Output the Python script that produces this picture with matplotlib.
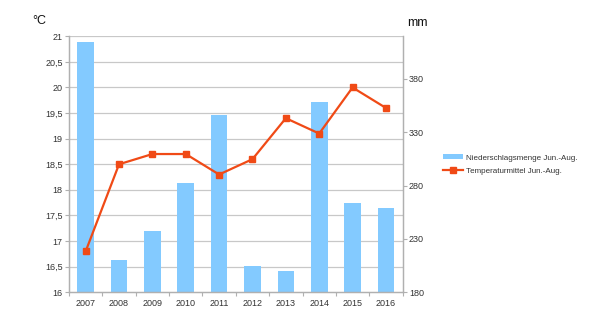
import matplotlib
matplotlib.use("Agg")
import matplotlib.pyplot as plt
from matplotlib.lines import Line2D
from matplotlib.patches import Patch
from matplotlib.ticker import FuncFormatter, FixedLocator, MultipleLocator
import matplotlib.transforms as mtransforms
import numpy as np

plt.rcParams['font.family'] = ['Liberation Sans', 'DejaVu Sans']

years = ['2007', '2008', '2009', '2010', '2011', '2012', '2013', '2014', '2015', '2016']
niederschlag_mm = [415, 210, 237, 282, 346, 205, 200, 358, 264, 259]
temperatur_c = [16.8, 18.5, 18.7, 18.7, 18.3, 18.6, 19.4, 19.1, 20.0, 19.6]

bar_color = '#83caff'
line_color = '#f04a16'
grid_color = '#c8c8c8'
text_color = '#333333'

fig = plt.figure(figsize=(6, 3.24), dpi=100)
ax_mm = fig.add_axes([0.115, 0.098, 0.556, 0.790])
ax_t = ax_mm.twinx()

x = np.arange(len(years))

# precipitation bars (right axis)
ax_mm.bar(x, niederschlag_mm, width=0.5, color=bar_color, zorder=2)
ax_mm.set_ylim(180, 420)
ax_mm.yaxis.tick_right()
ax_mm.yaxis.set_major_locator(FixedLocator([180, 230, 280, 330, 380]))

# temperature line (left axis)
ax_t.plot(x, temperatur_c, color=line_color, lw=1.6, marker='s', ms=5, zorder=3)
ax_t.set_ylim(16, 21)
ax_t.yaxis.tick_left()
ax_t.yaxis.set_major_locator(MultipleLocator(0.5))
ax_t.yaxis.set_major_formatter(FuncFormatter(
    lambda v, p: (f'{v:g}').replace('.', ',')))

# horizontal grid for the temperature scale, drawn beneath the bars
trans = mtransforms.blended_transform_factory(ax_mm.transAxes, ax_t.transData)
for t in np.arange(16.5, 21.01, 0.5):
    ax_mm.add_line(Line2D([0, 1], [t, t], transform=trans, color=grid_color,
                          lw=0.9, zorder=1))

for a in (ax_mm, ax_t):
    a.set_xlim(-0.5, len(years) - 0.5)
    a.spines['top'].set_visible(False)
    for s in ('left', 'right', 'bottom'):
        a.spines[s].set_color('#b0b0b0')
        a.spines[s].set_linewidth(0.9)
    a.tick_params(axis='y', length=3, width=0.8, color='#b0b0b0',
                  labelsize=6.5, labelcolor=text_color, pad=1.5)

# category labels centred, tick marks between categories
ax_mm.xaxis.set_major_locator(FixedLocator(np.arange(-0.5, len(years), 1.0)))
ax_mm.xaxis.set_minor_locator(FixedLocator(x))
ax_mm.xaxis.set_major_formatter(FuncFormatter(lambda v, p: ''))
ax_mm.set_xticks(x, years, minor=True)
ax_mm.tick_params(axis='x', which='major', length=3, width=0.8, color='#b0b0b0')
ax_mm.tick_params(axis='x', which='minor', length=0, labelsize=6.5,
                  labelcolor=text_color, pad=5)
ax_t.tick_params(axis='x', which='both', length=0, labelbottom=False)

fig.text(0.053, 0.935, '°C', fontsize=9, color='#111111', ha='left', va='center')
fig.text(0.678, 0.929, 'mm', fontsize=9, color='#111111', ha='left', va='center')

handles = [Patch(facecolor=bar_color, edgecolor='none'),
           Line2D([], [], color=line_color, lw=1.6, marker='s', ms=5)]
labels = ['Niederschlagsmenge Jun.-Aug.', 'Temperaturmittel Jun.-Aug.']
fig.legend(handles, labels, loc='center left', bbox_to_anchor=(0.727, 0.492),
           frameon=False, fontsize=5.8, handlelength=2.4, handleheight=0.6,
           handletextpad=0.4, labelspacing=0.75, labelcolor=text_color)

fig.savefig('out.png', dpi=100, facecolor='white')
